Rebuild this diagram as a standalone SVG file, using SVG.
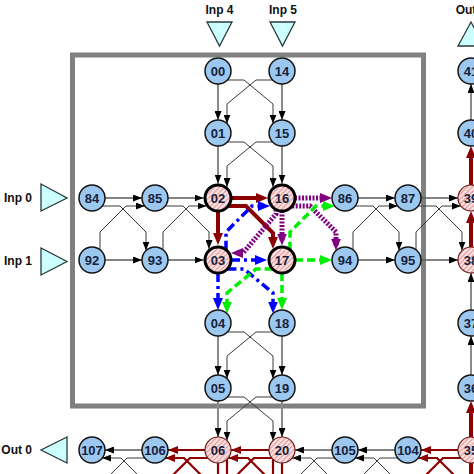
<svg xmlns="http://www.w3.org/2000/svg" width="474" height="474" viewBox="0 0 474 474">
<defs>
<style>
.bg{fill:#ffffff}
.frame{fill:none;stroke:#808080;stroke-width:5}
.sv{fill:none;stroke:#8a8a8a;stroke-width:2}
.sh{fill:none;stroke:#5a5a5a;stroke-width:1.3}
.x{fill:none;stroke:#3a3a3a;stroke-width:1}
.rv{fill:none;stroke:#8b0000;stroke-width:4}
.rb{fill:none;stroke:#8b0000;stroke-width:2.2}
.bl{fill:none;stroke:#0000ff;stroke-width:3.5;stroke-dasharray:9 4 3 4}
.gr{fill:none;stroke:#00ee00;stroke-width:3.5;stroke-dasharray:8 4}
.pu{fill:none;stroke:#800080;stroke-width:5;stroke-dasharray:2 1.5}
.n circle{fill:#9cc8f0;stroke:#141414;stroke-width:1.5}
.h circle{fill:url(#hatch);stroke:#000;stroke-width:3}
.s circle{fill:url(#hatch);stroke:#6b1a1a;stroke-width:1.2}
.t{font-family:"Liberation Sans",Arial,sans-serif;font-weight:bold;font-size:13px;fill:#16213a;text-anchor:middle}
.lab{font-family:"Liberation Sans",Arial,sans-serif;font-weight:bold;font-size:12px;fill:#111}
.tri{fill:#ccffff;stroke:#2a3a3a;stroke-width:1.3}
</style>
<pattern id="hatch" patternUnits="userSpaceOnUse" width="3.5" height="3.5" patternTransform="rotate(45)">
<rect width="3.5" height="3.5" fill="#fbe3e3"/>
<line x1="0.6" y1="0" x2="0.6" y2="3.5" stroke="#e49a9a" stroke-width="1.2"/>
</pattern>
<marker id="mk" viewBox="0 0 9 7" refX="9" refY="3.5" markerWidth="9" markerHeight="7" markerUnits="userSpaceOnUse" orient="auto"><path d="M0,0 L9,3.5 L0,7 z" fill="#000"/></marker>
<marker id="mr" viewBox="0 0 12 10" refX="7" refY="5" markerWidth="12" markerHeight="10" markerUnits="userSpaceOnUse" orient="auto"><path d="M0,0 L12,5 L0,10 z" fill="#8b0000"/></marker>
<marker id="mrs" viewBox="0 0 10 8" refX="10" refY="4" markerWidth="10" markerHeight="8" markerUnits="userSpaceOnUse" orient="auto"><path d="M0,0 L10,4 L0,8 z" fill="#8b0000"/></marker>
<marker id="mb" viewBox="0 0 12 10" refX="7" refY="5" markerWidth="12" markerHeight="10" markerUnits="userSpaceOnUse" orient="auto"><path d="M0,0 L12,5 L0,10 z" fill="#0000ff"/></marker>
<marker id="mg" viewBox="0 0 12 10" refX="7" refY="5" markerWidth="12" markerHeight="10" markerUnits="userSpaceOnUse" orient="auto"><path d="M0,0 L12,5 L0,10 z" fill="#00ee00"/></marker>
<marker id="mp" viewBox="0 0 12 10" refX="7" refY="5" markerWidth="12" markerHeight="10" markerUnits="userSpaceOnUse" orient="auto"><path d="M0,0 L12,5 L0,10 z" fill="#800080"/></marker>
</defs>
<rect class="bg" x="0" y="0" width="474" height="474"/>
<rect class="frame" x="72.5" y="55" width="351" height="351"/>

<g id="io">
<text class="lab" x="219.5" y="14" text-anchor="middle">Inp 4</text>
<polygon class="tri" points="207,22 232,22 219.5,46"/>
<text class="lab" x="283" y="14" text-anchor="middle">Inp 5</text>
<polygon class="tri" points="270,22 295,22 282.5,46"/>
<text class="lab" x="32" y="202" text-anchor="end">Inp 0</text>
<polygon class="tri" points="41,184 41,211 67,198"/>
<text class="lab" x="32" y="265" text-anchor="end">Inp 1</text>
<polygon class="tri" points="41,248 41,275 67,261.5"/>
<text class="lab" x="32" y="454" text-anchor="end">Out 0</text>
<polygon class="tri" points="67,437 67,463 41,450"/>
<text class="lab" x="471" y="14" text-anchor="middle">Out 1</text>
<polygon class="tri" points="458,46 484,46 471,22"/>
</g>

<g id="connectors">
<!-- vertical gray blocks -->
<path class="sv" d="M218,84 V120" marker-end="url(#mk)"/>
<path class="sv" d="M282,84 V120" marker-end="url(#mk)"/>
<path class="x" d="M227.4,80 H244 L273,104 V123.6" marker-end="url(#mk)"/>
<path class="x" d="M272.6,80 H256 L227,104 V123.6" marker-end="url(#mk)"/>
<path class="sv" d="M218,146 V183.5" marker-end="url(#mk)"/>
<path class="sv" d="M282,146 V183.5" marker-end="url(#mk)"/>
<path class="x" d="M227.4,142 H244 L273,166 V187" marker-end="url(#mk)"/>
<path class="x" d="M272.6,142 H256 L227,166 V187" marker-end="url(#mk)"/>
<path class="sv" d="M218,336 V375" marker-end="url(#mk)"/>
<path class="sv" d="M282,336 V375" marker-end="url(#mk)"/>
<path class="x" d="M227.4,332 H244 L273,356 V378.6" marker-end="url(#mk)"/>
<path class="x" d="M272.6,332 H256 L227,356 V378.6" marker-end="url(#mk)"/>
<path class="sv" d="M218,401 V437" marker-end="url(#mk)"/>
<path class="sv" d="M282,401 V437" marker-end="url(#mk)"/>
<path class="x" d="M227.4,397 H244 L273,421 V440.6" marker-end="url(#mk)"/>
<path class="x" d="M272.6,397 H256 L227,421 V440.6" marker-end="url(#mk)"/>
<!-- horizontal gray blocks -->
<path class="sh" d="M105,198 H142" marker-end="url(#mk)"/>
<path class="sh" d="M105,260 H142" marker-end="url(#mk)"/>
<path class="x" d="M102.2,206 H120 L146,232 V250.6" marker-end="url(#mk)"/>
<path class="x" d="M100,249.8 V232 L126,206 H144.8" marker-end="url(#mk)"/>
<path class="sh" d="M168,198 H203.5" marker-end="url(#mk)"/>
<path class="sh" d="M168,260 H203.5" marker-end="url(#mk)"/>
<path class="x" d="M165.2,206 H183 L209,232 V249" marker-end="url(#mk)"/>
<path class="x" d="M163,249.8 V232 L189,206 H206.5" marker-end="url(#mk)"/>
<path class="sh" d="M358,198 H395" marker-end="url(#mk)"/>
<path class="sh" d="M358,260 H395" marker-end="url(#mk)"/>
<path class="x" d="M355.2,206 H373 L399,232 V250.6" marker-end="url(#mk)"/>
<path class="x" d="M353,249.8 V232 L379,206 H397.8" marker-end="url(#mk)"/>
<path class="sh" d="M421,198 H458" marker-end="url(#mk)"/>
<path class="sh" d="M421,260 H458" marker-end="url(#mk)"/>
<path class="x" d="M418.2,206 H436 L462,232 V250.6" marker-end="url(#mk)"/>
<path class="x" d="M416,249.8 V232 L442,206 H460.8" marker-end="url(#mk)"/>
<!-- coloured paths -->
<path class="rv" d="M231,198 H263" marker-end="url(#mr)"/>
<path class="rv" d="M218,211 V240" marker-end="url(#mr)"/>
<path class="rv" d="M228.2,206 H246 L273,233 V244" marker-end="url(#mr)"/>
<path class="bl" d="M231,260 H262" marker-end="url(#mb)"/>
<path class="bl" d="M226,249.8 V232 L252,206 H265" marker-end="url(#mb)"/>
<path class="bl" d="M218,273 V305" marker-end="url(#mb)"/>
<path class="bl" d="M227.4,269 H244 L273,293 V308.6" marker-end="url(#mb)"/>
<path class="pu" d="M295,198 H327" marker-end="url(#mp)"/>
<path class="pu" d="M292.2,206 H310 L336,232 V245.6" marker-end="url(#mp)"/>
<path class="pu" d="M282,211 V240.5" marker-end="url(#mp)"/>
<path class="pu" d="M276,209.5 V214 L243,253 H236" marker-end="url(#mp)"/>
<path class="gr" d="M295,260 H327" marker-end="url(#mg)"/>
<path class="gr" d="M290,249.8 V232 L316,206 H329.8" marker-end="url(#mg)"/>
<path class="gr" d="M282,273 V305" marker-end="url(#mg)"/>
<path class="gr" d="M272.6,269 H256 L227,293 V308.6" marker-end="url(#mg)"/>
<!-- right column (upward) -->
<path class="rv" d="M471,437 V406" marker-end="url(#mr)"/>
<path class="sv" d="M471,375 V336" marker-end="url(#mk)"/>
<path class="sv" d="M471,310 V273" marker-end="url(#mk)"/>
<path class="rv" d="M471,247 V216" marker-end="url(#mr)"/>
<path class="rv" d="M471,185 V151" marker-end="url(#mr)"/>
<path class="sv" d="M471,120 V84" marker-end="url(#mk)"/>
<path class="rv" d="M471,463 V474"/>
<!-- bottom row (leftward) -->
<path class="sh" d="M142,450 H105" marker-end="url(#mk)"/>
<path class="x" d="M147,501.8 V484 L121,458 H102.2" marker-end="url(#mk)"/>
<path class="x" d="M144.8,458 H127 L101,484 V501.8"/>
<path class="rb" d="M205,450 H168" marker-end="url(#mrs)"/>
<path class="rb" d="M210,501.8 V484 L184,458 H165.2" marker-end="url(#mrs)"/>
<path class="rb" d="M207.8,458 H190 L164,484 V501.8"/>
<path class="rb" d="M269,450 H231" marker-end="url(#mrs)"/>
<path class="rb" d="M274,501.8 V484 L248,458 H228.2" marker-end="url(#mrs)"/>
<path class="rb" d="M271.8,458 H254 L227,485 V501.8"/>
<path class="sh" d="M332,450 H295" marker-end="url(#mk)"/>
<path class="x" d="M337,501.8 V484 L311,458 H292.2" marker-end="url(#mk)"/>
<path class="x" d="M334.8,458 H317 L291,484 V501.8"/>
<path class="sh" d="M395,450 H358" marker-end="url(#mk)"/>
<path class="x" d="M400,501.8 V484 L374,458 H355.2" marker-end="url(#mk)"/>
<path class="x" d="M397.8,458 H380 L354,484 V501.8"/>
<path class="rb" d="M458,450 H421" marker-end="url(#mrs)"/>
<path class="rb" d="M463,501.8 V484 L437,458 H418.2" marker-end="url(#mrs)"/>
<path class="rb" d="M460.8,458 H443 L417,484 V501.8"/>
<path class="rb" d="M218,463 V474"/>
<path class="rb" d="M227,459 V474"/>
<path class="rb" d="M282,463 V474"/>
<path class="rb" d="M273,459 V474"/>
</g>

<g id="n00" class="n"><circle cx="218" cy="71" r="13"/><text class="t" x="218" y="75.6">00</text></g>
<g id="n14" class="n"><circle cx="282" cy="71" r="13"/><text class="t" x="282" y="75.6">14</text></g>
<g id="n01" class="n"><circle cx="218" cy="133" r="13"/><text class="t" x="218" y="137.6">01</text></g>
<g id="n15" class="n"><circle cx="282" cy="133" r="13"/><text class="t" x="282" y="137.6">15</text></g>
<g id="n84" class="n"><circle cx="92" cy="198" r="13"/><text class="t" x="92" y="202.6">84</text></g>
<g id="n85" class="n"><circle cx="155" cy="198" r="13"/><text class="t" x="155" y="202.6">85</text></g>
<g id="n02" class="h"><circle cx="218" cy="198" r="13"/><text class="t" x="218" y="202.6">02</text></g>
<g id="n16" class="h"><circle cx="282" cy="198" r="13"/><text class="t" x="282" y="202.6">16</text></g>
<g id="n86" class="n"><circle cx="345" cy="198" r="13"/><text class="t" x="345" y="202.6">86</text></g>
<g id="n87" class="n"><circle cx="408" cy="198" r="13"/><text class="t" x="408" y="202.6">87</text></g>
<g id="n39" class="s"><circle cx="471" cy="198" r="13"/><text class="t" x="471" y="202.6">39</text></g>
<g id="n92" class="n"><circle cx="92" cy="260" r="13"/><text class="t" x="92" y="264.6">92</text></g>
<g id="n93" class="n"><circle cx="155" cy="260" r="13"/><text class="t" x="155" y="264.6">93</text></g>
<g id="n03" class="h"><circle cx="218" cy="260" r="13"/><text class="t" x="218" y="264.6">03</text></g>
<g id="n17" class="h"><circle cx="282" cy="260" r="13"/><text class="t" x="282" y="264.6">17</text></g>
<g id="n94" class="n"><circle cx="345" cy="260" r="13"/><text class="t" x="345" y="264.6">94</text></g>
<g id="n95" class="n"><circle cx="408" cy="260" r="13"/><text class="t" x="408" y="264.6">95</text></g>
<g id="n38" class="s"><circle cx="471" cy="260" r="13"/><text class="t" x="471" y="264.6">38</text></g>
<g id="n04" class="n"><circle cx="218" cy="323" r="13"/><text class="t" x="218" y="327.6">04</text></g>
<g id="n18" class="n"><circle cx="282" cy="323" r="13"/><text class="t" x="282" y="327.6">18</text></g>
<g id="n05" class="n"><circle cx="218" cy="388" r="13"/><text class="t" x="218" y="392.6">05</text></g>
<g id="n19" class="n"><circle cx="282" cy="388" r="13"/><text class="t" x="282" y="392.6">19</text></g>
<g id="n107" class="n"><circle cx="92" cy="450" r="13"/><text class="t" x="92" y="454.6">107</text></g>
<g id="n106" class="n"><circle cx="155" cy="450" r="13"/><text class="t" x="155" y="454.6">106</text></g>
<g id="n06" class="s"><circle cx="218" cy="450" r="13"/><text class="t" x="218" y="454.6">06</text></g>
<g id="n20" class="s"><circle cx="282" cy="450" r="13"/><text class="t" x="282" y="454.6">20</text></g>
<g id="n105" class="n"><circle cx="345" cy="450" r="13"/><text class="t" x="345" y="454.6">105</text></g>
<g id="n104" class="n"><circle cx="408" cy="450" r="13"/><text class="t" x="408" y="454.6">104</text></g>
<g id="n35" class="s"><circle cx="471" cy="450" r="13"/><text class="t" x="471" y="454.6">35</text></g>
<g id="n36" class="n"><circle cx="471" cy="388" r="13"/><text class="t" x="471" y="392.6">36</text></g>
<g id="n37" class="n"><circle cx="471" cy="323" r="13"/><text class="t" x="471" y="327.6">37</text></g>
<g id="n40" class="n"><circle cx="471" cy="133" r="13"/><text class="t" x="471" y="137.6">40</text></g>
<g id="n41" class="n"><circle cx="471" cy="71" r="13"/><text class="t" x="471" y="75.6">41</text></g>
</svg>
